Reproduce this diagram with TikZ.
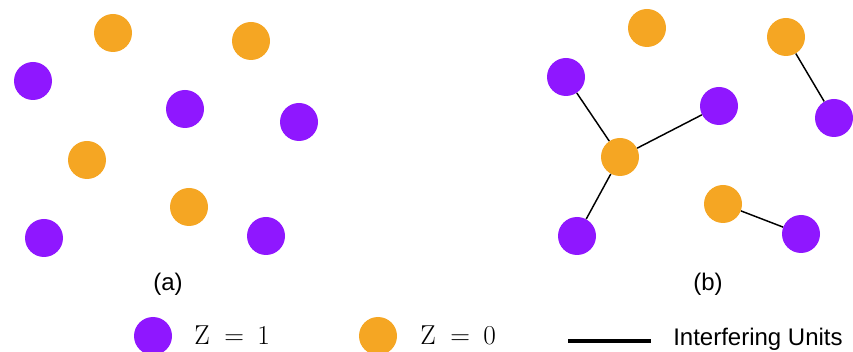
\documentclass[tikz,border=0pt]{standalone}
\usepackage{fontspec}
\setsansfont{Liberation Sans}
\usetikzlibrary{positioning}
\definecolor{treated}{RGB}{143,23,255}
\definecolor{control}{RGB}{245,166,35}

\begin{document}
\begin{tikzpicture}[x=0.75pt, y=-0.75pt,
    unit/.style={circle, minimum size=28.5pt, inner sep=0pt},
    treat/.style={unit, fill=treated},
    ctrl/.style={unit, fill=control},
    link/.style={line width=1.1pt},
    caption/.style={inner sep=0pt, font=\sffamily\fontsize{18}{20}\selectfont},
    eqtext/.style={inner sep=0pt, font=\rmfamily\fontsize{20.5}{22}\selectfont}]
    \useasboundingbox (0,0) rectangle (853,352);

    % Panel (a): no interference
    \foreach \n/\x/\y in {ac1/113/33, ac2/251/41, ac3/87/160, ac4/189/207} {
        \node[ctrl] (\n) at (\x,\y) {};
    }
    \foreach \n/\x/\y in {at1/33/81, at2/185/109, at3/299/122, at4/44/238, at5/266/236} {
        \node[treat] (\n) at (\x,\y) {};
    }
    \node[caption, anchor=base] (capa) at (168,291) {(a)};

    % Panel (b): with interference
    \foreach \n/\x/\y in {bc1/647/28, bc2/786/37, bc3/620/157, bc4/723/204} {
        \node[ctrl] (\n) at (\x,\y) {};
    }
    \foreach \n/\x/\y in {bt1/566/77, bt2/719/106, bt3/834/118, bt4/577/236, bt5/801/234} {
        \node[treat] (\n) at (\x,\y) {};
    }
    \node[caption, anchor=base] (capb) at (708,291) {(b)};

    % interfering pairs
    \draw[link] (bc3) -- (bt1);
    \draw[link] (bc3) -- (bt2);
    \draw[link] (bc3) -- (bt4);
    \draw[link] (bc2) -- (bt3);
    \draw[link] (bc4) -- (bt5);

    % Legend
    \node[treat] (legt) at (153,336) {};
    \node[eqtext, anchor=base west] (legttext) at (194,345) {Z\hspace{11pt}=\hspace{10pt}1};
    \node[ctrl] (legc) at (378,336) {};
    \node[eqtext, anchor=base west] (legctext) at (420,345) {Z\hspace{11pt}=\hspace{10pt}0};
    \coordinate (legl1) at (568,341);
    \coordinate (legl2) at (651,341);
    \draw[line width=2.4pt] (legl1) -- (legl2);
    \node[caption, anchor=base west] (legltext) at (673,346) {Interfering Units};
\end{tikzpicture}
\end{document}
